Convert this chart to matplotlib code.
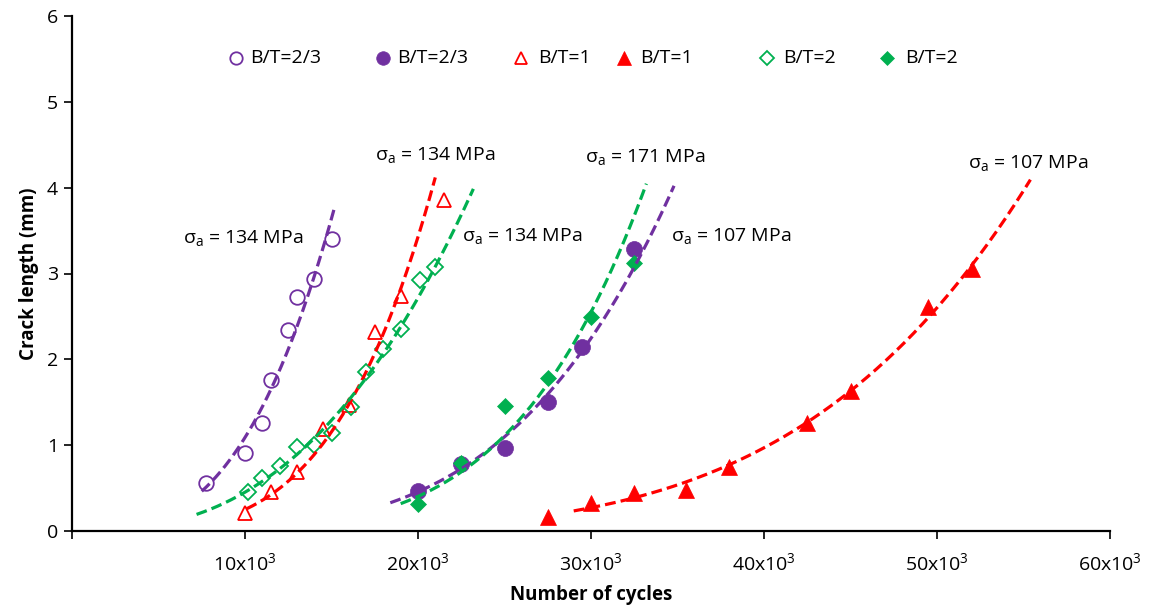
import numpy as np
import matplotlib
matplotlib.use('Agg')
import matplotlib.pyplot as plt

plt.rcParams['font.family'] = ['Open Sans', 'DejaVu Sans']
plt.rcParams['mathtext.fontset'] = 'custom'
plt.rcParams['mathtext.rm'] = 'Open Sans'
plt.rcParams['mathtext.it'] = 'Open Sans:italic'
plt.rcParams['mathtext.bf'] = 'Open Sans:bold'

# ---------------- data ----------------
x_c_open = [7750, 10000, 11000, 11500, 12500, 13000, 14000, 15000]
y_c_open = [0.56, 0.91, 1.26, 1.76, 2.34, 2.73, 2.94, 3.40]

x_c_fill = [20000, 22500, 25000, 27500, 29500, 32500]
y_c_fill = [0.47, 0.78, 0.97, 1.50, 2.14, 3.28]

x_t_open = [10000, 11500, 13000, 14500, 16000, 17500, 19000, 21500]
y_t_open = [0.21, 0.45, 0.69, 1.19, 1.47, 2.32, 2.74, 3.86]

x_t_fill = [27500, 30000, 32500, 35500, 38000, 42500, 45000, 49500, 52000]
y_t_fill = [0.16, 0.33, 0.44, 0.48, 0.75, 1.26, 1.63, 2.61, 3.05]

x_d_open = [10200, 11000, 12000, 13000, 14000, 15000, 16100, 17000, 18000, 19000, 20100, 21000]
y_d_open = [0.45, 0.62, 0.76, 0.98, 1.00, 1.14, 1.45, 1.85, 2.12, 2.35, 2.92, 3.08]

x_d_fill = [20000, 22500, 25000, 27500, 30000, 32500]
y_d_fill = [0.31, 0.79, 1.46, 1.78, 2.49, 3.12]

# power-law trendline extents (cycles)
trend_c_open = (7500, 15200)
trend_c_fill = (18400, 34800)
trend_t_open = (10100, 21000)
trend_t_fill = (29000, 55400)
trend_d_open = (7200, 23200)
trend_d_fill = (19000, 33200)

labels = ['B/T=2/3', 'B/T=2/3', 'B/T=1', 'B/T=1', 'B/T=2', 'B/T=2']

stress_labels = ['134', '134', '134', '171', '107', '107']

x_ticks = [0, 10000, 20000, 30000, 40000, 50000, 60000]
x_ticklabels = ['', r'10x10$^{\mathrm{3}}$', r'20x10$^{\mathrm{3}}$', r'30x10$^{\mathrm{3}}$',
                r'40x10$^{\mathrm{3}}$', r'50x10$^{\mathrm{3}}$', r'60x10$^{\mathrm{3}}$']
y_ticks = [0, 1, 2, 3, 4, 5, 6]

# ---------------- plot ----------------
PURPLE = '#7030A0'
RED = '#FF0000'
GREEN = '#00B050'

W, H = 1150, 609
fig = plt.figure(figsize=(W / 100, H / 100), dpi=100)
AX_L, AX_R, AX_T, AX_B = 72, 1110, 16, 531
ax = fig.add_axes([AX_L / W, 1 - AX_B / H, (AX_R - AX_L) / W, (AX_B - AX_T) / H])

series = [
    (x_c_open, y_c_open, trend_c_open, 'o', PURPLE, False, 10.5),
    (x_c_fill, y_c_fill, trend_c_fill, 'o', PURPLE, True, 11.5),
    (x_t_open, y_t_open, trend_t_open, '^', RED, False, 10.5),
    (x_t_fill, y_t_fill, trend_t_fill, '^', RED, True, 11.5),
    (x_d_open, y_d_open, trend_d_open, 'D', GREEN, False, 8.0),
    (x_d_fill, y_d_fill, trend_d_fill, 'D', GREEN, True, 8.5),
]

for (xs, ys, tr, mk, col, filled, ms), lab in zip(series, labels):
    ax.plot(xs, ys, linestyle='none', marker=mk, markersize=ms,
            markerfacecolor=col if filled else 'none',
            markeredgecolor=col, markeredgewidth=1.3 if not filled else 0.5,
            label=lab, zorder=2, clip_on=False)
    # power-law trendline y = a * x^b fitted in log space
    b, lna = np.polyfit(np.log(np.asarray(xs, float)), np.log(np.asarray(ys, float)), 1)
    xf = np.linspace(tr[0], tr[1], 200)
    ax.plot(xf, np.exp(lna) * xf ** b, color=col, lw=2.3,
            linestyle=(0, (3.4, 1.6)), dash_capstyle='butt', zorder=3)

ax.set_xlim(0, 60000)
ax.set_ylim(0, 6)
ax.set_xticks(x_ticks)
ax.set_xticklabels(x_ticklabels)
ax.set_yticks(y_ticks)
for s in ['top', 'right']:
    ax.spines[s].set_visible(False)
for s in ['left', 'bottom']:
    ax.spines[s].set_linewidth(1.6)
ax.tick_params(axis='both', direction='out', length=6, width=1.2, labelsize=14)
ax.tick_params(axis='x', pad=9)
ax.tick_params(axis='y', pad=4)

ax.set_xlabel('Number of cycles', fontsize=13.5, fontweight='bold', labelpad=8)
ax.set_ylabel('Crack length (mm)', fontsize=13.5, fontweight='bold', labelpad=6)

# annotations (left x, baseline y)
ann_pos = [(6400, 3.36), (17500, 4.32), (22550, 3.38), (29650, 4.30), (34600, 3.38), (51800, 4.23)]
for (px, py), s in zip(ann_pos, stress_labels):
    ax.text(px, py, r'$\mathrm{σ_a}$ = ' + s + ' MPa', fontsize=14, ha='left', va='baseline')

# legend entries placed like the original (pixel x of marker and text)
leg_marker_px = [236, 383, 521, 624, 767, 887]
leg_text_px = [250, 397, 538, 640, 783, 905]
leg_y = (AX_B - 58) / (AX_B - AX_T)
for (xs, ys, tr, mk, col, filled, ms), lab, mpx, tpx in zip(series, labels, leg_marker_px, leg_text_px):
    ax.plot([(mpx - AX_L) / (AX_R - AX_L)], [leg_y], transform=ax.transAxes, clip_on=False,
            linestyle='none', marker=mk, markersize=ms * 0.85,
            markerfacecolor=col if filled else 'none',
            markeredgecolor=col, markeredgewidth=1.3 if not filled else 0.5)
    ax.text((tpx - AX_L) / (AX_R - AX_L), leg_y, lab, transform=ax.transAxes,
            fontsize=14, ha='left', va='center')

fig.savefig('out.png', dpi=100)
